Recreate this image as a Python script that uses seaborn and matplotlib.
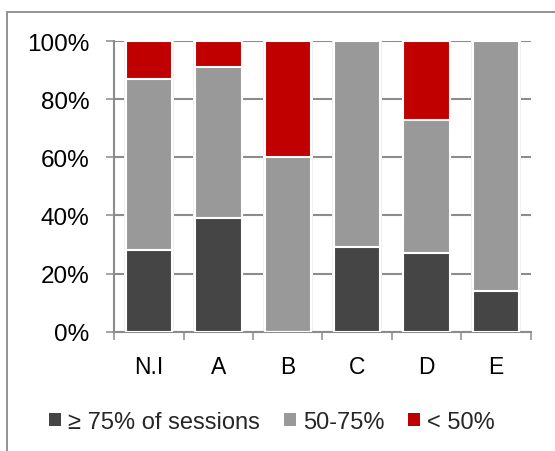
import numpy as np
import pandas as pd
import seaborn as sns
import matplotlib
matplotlib.use("Agg")
import matplotlib.pyplot as plt
from matplotlib.patches import Patch, Rectangle
from matplotlib.ticker import FuncFormatter, FixedLocator

# Share of participants per group, by attendance level (percent)
groups = ["N.I", "A", "B", "C", "D", "E"]
high = [28, 39, 0, 29, 27, 14]        # >= 75% of sessions
mid = [59, 52, 60, 71, 46, 86]        # 50-75%
low = [13, 9, 40, 0, 27, 0]           # < 50%
series_names = ["\u2265 75% of sessions", "50-75%", "< 50%"]
y_ticks = [0, 20, 40, 60, 80, 100]

colors = ["#454545", "#999999", "#C00000"]
grid_col = "#8c8c8c"

sns.set_theme(style="white")
plt.rcParams["font.family"] = ["Liberation Sans", "DejaVu Sans"]

df = pd.DataFrame({"group": groups, "high": high, "mid": mid, "low": low})
df["top_mid"] = df["high"] + df["mid"]
df["top_low"] = df["top_mid"] + df["low"]

fig = plt.figure(figsize=(5.55, 4.52), dpi=100)
ax = fig.add_axes([0.206, 0.264, 0.750, 0.643])

# light halo behind the bars
sns.barplot(data=df, x="group", y="top_low", color="#f0f0f0", width=0.72,
            saturation=1, edgecolor="none", ax=ax, zorder=1)

# stacked segments drawn as cumulative layers, tallest first
for col, c in zip(["top_low", "top_mid", "high"], colors[::-1]):
    sns.barplot(data=df, x="group", y=col, color=c, width=0.67, saturation=1,
                edgecolor="white", linewidth=1.5, ax=ax, zorder=3)

ax.set_ylim(0, 100)
ax.set_xlim(-0.5, len(groups) - 0.5)
ax.set_xlabel("")
ax.set_ylabel("")
ax.yaxis.set_major_locator(FixedLocator(y_ticks))
ax.yaxis.set_major_formatter(FuncFormatter(lambda v, p: f"{v:.0f}%"))
ax.yaxis.grid(True, color=grid_col, linewidth=1.5, zorder=0)
ax.set_axisbelow(True)

for side in ["top", "right"]:
    ax.spines[side].set_visible(False)
for side in ["left", "bottom"]:
    ax.spines[side].set_color(grid_col)
    ax.spines[side].set_linewidth(1.5)

ax.tick_params(axis="y", which="major", length=5.5, width=1.1, color=grid_col,
               left=True, labelsize=17.5, pad=12.5, labelcolor="black")
ax.tick_params(axis="x", which="major", length=0, labelsize=16.5, pad=17,
               labelcolor="black")
ax.set_xticks(range(len(groups)))
ax.set_xticklabels(groups)
ax.set_xticks(np.arange(-0.5, len(groups)), minor=True)
ax.tick_params(axis="x", which="minor", length=6, width=1.1, color=grid_col,
               bottom=True)

handles = [Patch(facecolor=c, edgecolor="none") for c in colors]
fig.legend(handles, series_names, loc="center", bbox_to_anchor=(0.49, 0.064),
           ncol=3, frameon=False, fontsize=17, handlelength=0.5,
           handleheight=0.5, handletextpad=0.3, columnspacing=1.0)

# outer chart frame
fig.patches.append(Rectangle((0.0135, -0.05), 1.2, 1.022, transform=fig.transFigure,
                             fill=False, edgecolor="#8a8a8a", linewidth=1.3))

fig.savefig("out.png", dpi=100)
